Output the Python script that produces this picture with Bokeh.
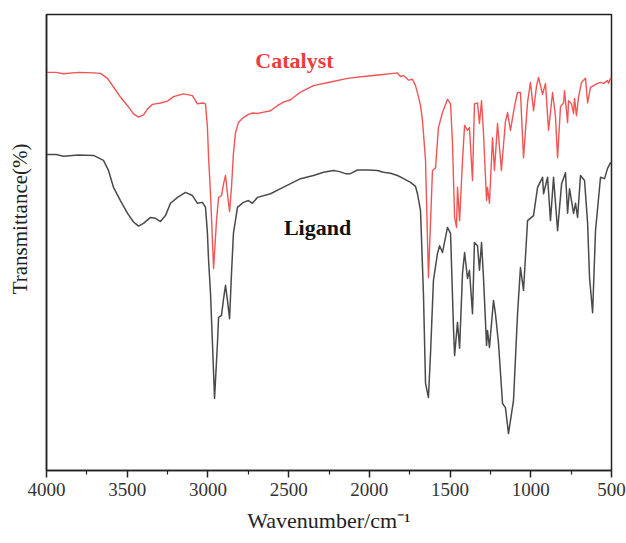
from bokeh.plotting import figure
from bokeh.models import Range1d, FixedTicker, Label
from bokeh.embed import file_html
from bokeh.resources import INLINE

# Catalyst spectrum (wavenumber cm-1, transmittance arb. %)
cat_wn = [4000, 3940, 3895, 3800, 3709, 3665, 3622, 3585, 3542, 3498, 3461, 3430, 3399, 3374, 3343,
          3294, 3250, 3213, 3151, 3096, 3065, 3034, 3015, 3003, 2996, 2984, 2965, 2947, 2934, 2916,
          2903, 2891, 2879, 2866, 2854, 2842, 2829, 2811, 2780, 2749, 2724, 2693, 2655, 2612, 2570,
          2532, 2488, 2426, 2346, 2240, 2135, 2036, 1931, 1851, 1826, 1807, 1788, 1757, 1733, 1714,
          1696, 1683, 1671, 1652, 1634, 1609, 1590, 1572, 1547, 1516, 1497, 1485, 1472, 1460, 1454,
          1441, 1423, 1410, 1392, 1380, 1361, 1349, 1330, 1318, 1305, 1293, 1274, 1268, 1256, 1237,
          1225, 1206, 1182, 1157, 1144, 1126, 1100, 1082, 1064, 1045, 1020, 1002, 983, 964, 952,
          927, 909, 890, 865, 847, 834, 816, 797, 791, 772, 766, 748, 735, 729, 717, 704, 686, 661,
          648, 630, 611, 587, 568, 549, 525, 518, 506, 500]
cat_t = [87.3, 87.3, 87.0, 87.3, 87.2, 87.1, 86.0, 84.1, 81.9, 80.0, 78.2, 77.5, 78.0, 79.3, 80.3,
         80.6, 81.0, 82.0, 82.6, 82.2, 80.4, 80.6, 80.4, 75.2, 68.6, 60.7, 44.3, 54.8, 59.9, 60.3,
         62.9, 64.7, 60.7, 56.8, 62.1, 69.5, 74.1, 76.3, 77.4, 78.1, 78.4, 78.3, 78.6, 78.9, 80.0,
         80.8, 81.3, 83.0, 84.4, 85.2, 86.0, 86.4, 86.8, 87.1, 87.2, 86.4, 86.6, 85.6, 85.8, 84.4,
         82.0, 80.0, 76.8, 68.0, 42.3, 65.8, 66.4, 75.2, 78.5, 81.4, 80.4, 71.7, 55.5, 53.3, 62.1,
         54.8, 68.0, 75.7, 74.6, 75.2, 63.6, 80.4, 80.6, 76.1, 81.1, 73.9, 59.2, 62.1, 58.6, 73.0,
         65.8, 76.1, 65.8, 76.5, 78.5, 74.6, 80.0, 82.9, 82.9, 68.6, 80.8, 85.1, 78.9, 84.4, 86.2,
         82.5, 84.9, 74.6, 82.9, 77.6, 68.6, 79.8, 80.6, 83.3, 76.3, 81.1, 80.4, 78.3, 81.6, 77.8,
         82.0, 85.1, 86.0, 80.6, 84.0, 84.4, 84.9, 85.1, 84.9, 85.5, 84.9, 86.0, 85.8]

# Ligand spectrum
lig_wn = [4000, 3940, 3895, 3800, 3709, 3647, 3616, 3585, 3542, 3498, 3461, 3430, 3399, 3356, 3325,
          3294, 3263, 3232, 3188, 3139, 3096, 3065, 3034, 3015, 3003, 2996, 2984, 2972, 2959, 2941,
          2934, 2916, 2903, 2891, 2879, 2866, 2854, 2842, 2817, 2780, 2749, 2724, 2693, 2612, 2550,
          2488, 2426, 2346, 2284, 2222, 2191, 2148, 2117, 2074, 2011, 1950, 1913, 1869, 1826, 1788,
          1745, 1714, 1702, 1683, 1665, 1652, 1634, 1621, 1603, 1578, 1565, 1547, 1516, 1497, 1479,
          1472, 1454, 1441, 1423, 1410, 1392, 1380, 1361, 1349, 1330, 1318, 1305, 1293, 1274, 1268,
          1256, 1231, 1219, 1200, 1175, 1157, 1138, 1107, 1082, 1064, 1045, 1020, 983, 958, 927,
          921, 896, 878, 859, 834, 809, 785, 772, 760, 735, 723, 710, 692, 667, 648, 636, 617, 599,
          568, 543, 525, 506, 500]
lig_t = [69.3, 69.3, 68.9, 69.2, 69.1, 68.0, 65.8, 62.1, 59.2, 56.4, 54.5, 53.6, 54.2, 55.5, 55.3,
         54.6, 55.9, 58.6, 59.9, 61.0, 60.3, 58.6, 58.8, 57.7, 52.0, 46.1, 38.8, 27.9, 15.8, 27.9,
         33.6, 34.0, 37.7, 40.6, 37.3, 33.3, 43.2, 52.0, 57.7, 58.8, 59.2, 58.6, 59.9, 60.7, 61.8,
         62.9, 64.0, 64.7, 65.4, 65.8, 65.6, 65.1, 65.1, 65.9, 65.9, 65.8, 65.4, 65.2, 64.7, 64.0,
         63.2, 62.3, 60.7, 57.0, 38.8, 19.1, 16.0, 25.7, 41.7, 47.6, 49.3, 47.8, 53.3, 52.0, 31.4,
         25.2, 32.5, 26.8, 43.2, 47.8, 42.1, 43.9, 34.4, 50.0, 49.3, 43.9, 50.0, 42.3, 27.4, 30.7,
         27.0, 37.3, 34.4, 27.9, 14.7, 13.8, 8.1, 15.4, 34.4, 44.5, 39.5, 54.8, 55.9, 62.1, 64.3,
         60.7, 64.3, 54.8, 64.3, 52.6, 62.9, 65.3, 56.4, 61.8, 56.4, 58.6, 55.5, 64.7, 63.6, 54.2,
         42.3, 34.6, 52.6, 64.3, 64.0, 66.2, 67.5, 67.3]

major_ticks = [4000, 3500, 3000, 2500, 2000, 1500, 1000, 500]
minor_ticks = [3750, 3250, 2750, 2250, 1750, 1250, 750]

SERIF = "Liberation Serif"

p = figure(width=626, height=543, output_backend="svg", toolbar_location=None,
           x_range=Range1d(4000, 500), y_range=Range1d(0, 100),
           min_border_left=46, min_border_right=15, min_border_top=14, min_border_bottom=73)
p.background_fill_color = "white"
p.border_fill_color = "white"
p.grid.visible = False
p.outline_line_color = "#222222"
p.outline_line_width = 1.5

p.line(cat_wn, cat_t, line_color="#f05454", line_width=1.4, line_join="round")
p.line(lig_wn, lig_t, line_color="#4a4a4a", line_width=1.5, line_join="round")

xa = p.xaxis[0]
xa.ticker = FixedTicker(ticks=major_ticks, minor_ticks=minor_ticks)
xa.major_tick_out = 7
xa.major_tick_in = 0
xa.minor_tick_out = 4
xa.minor_tick_in = 0
xa.axis_line_width = 1.5
xa.major_tick_line_width = 1.5
xa.minor_tick_line_width = 1.2
xa.axis_line_color = "#222222"
xa.major_tick_line_color = "#222222"
xa.minor_tick_line_color = "#222222"
xa.major_label_text_font = SERIF
xa.major_label_text_font_size = "19px"
xa.major_label_text_color = "#333333"
xa.major_label_standoff = 5
xa.axis_label = "Wavenumber/cm\u207b\u00b9"
xa.axis_label_text_font = SERIF
xa.axis_label_text_font_size = "22px"
xa.axis_label_text_font_style = "normal"
xa.axis_label_text_color = "#222222"
xa.axis_label_standoff = 9

ya = p.yaxis[0]
ya.ticker = FixedTicker(ticks=[])
ya.major_tick_out = 0
ya.major_tick_in = 0
ya.minor_tick_out = 0
ya.minor_tick_in = 0
ya.major_label_text_font_size = "0px"
ya.axis_line_width = 1.5
ya.axis_line_color = "#222222"
# leading no-break spaces nudge the title slightly above centre, as in the original
ya.axis_label = "\u00a0" * 9 + "Transmittance(%)"
ya.axis_label_text_font = SERIF
ya.axis_label_text_font_size = "21px"
ya.axis_label_text_font_style = "normal"
ya.axis_label_text_color = "#222222"
ya.axis_label_standoff = 15

p.add_layout(Label(x=2464, y=89.9, text="Catalyst", text_font=SERIF, text_font_size="22px",
                   text_font_style="bold", text_color="#ee3b3b", text_align="center",
                   text_baseline="middle"))
p.add_layout(Label(x=2321, y=53.3, text="Ligand", text_font=SERIF, text_font_size="22px",
                   text_font_style="bold", text_color="#111111", text_align="center",
                   text_baseline="middle"))

open("out.html", "w").write(file_html(p, INLINE))
